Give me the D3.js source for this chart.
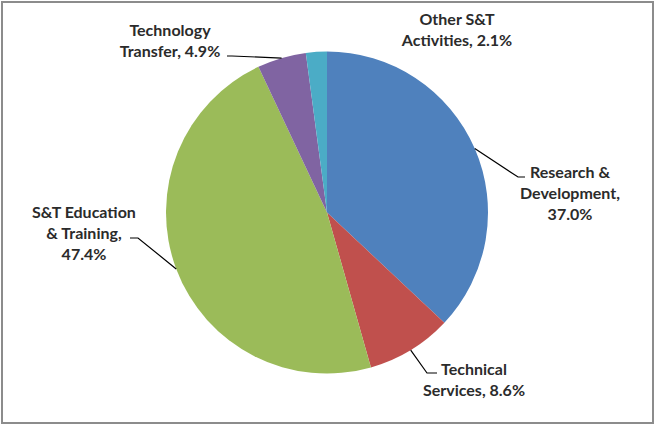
<!DOCTYPE html>
<html>
<head>
<meta charset="utf-8">
<script src="https://cdn.jsdelivr.net/npm/d3@7"></script>
<style>
  body { margin: 0; background: #fff; }
  svg text { font-family: Lato, "Open Sans", sans-serif; font-weight: bold; fill: #2b2b2b; }
</style>
</head>
<body>
<svg width="657" height="432"></svg>
<script>
var svg = d3.select("svg"),
    width = +svg.attr("width"),
    height = +svg.attr("height");

// chart data
var categories = ["Research & Development", "Technical Services", "S&T Education & Training", "Technology Transfer", "Other S&T Activities"];
var shares = [37.0, 8.6, 47.4, 4.9, 2.1];
var labelLines = [
    ["Research &", "Development,", "37.0%"],
    ["Technical", "Services, 8.6%"],
    ["S&T Education", "& Training,", "47.4%"],
    ["Technology", "Transfer, 4.9%"],
    ["Other S&T", "Activities, 2.1%"]
];

var colors = d3.scaleOrdinal()
    .domain(categories)
    .range(["#4f81bd", "#c0504d", "#9bbb59", "#8064a2", "#4bacc6"]);

// layout of the labels: text centre, first line y, leader elbow + end (null = no leader)
var labelLayout = [
    {x: 570, y: 172, elbow: [518, 177], end: [525, 177]},
    {x: 474, y: 369, elbow: [427, 373], end: [437, 373]},
    {x: 84,  y: 212, elbow: [138, 238], end: [130, 238]},
    {x: 170, y: 30,  elbow: [232, 56],  end: [227, 56]},
    {x: 457, y: 19,  elbow: null, end: null}
];

var cx = 327, cy = 212.5, radius = 161, lineH = 21;

// frame
svg.append("rect")
    .attr("x", 2).attr("y", 2)
    .attr("width", 651).attr("height", 421)
    .attr("fill", "#fff")
    .attr("stroke", "#8c8c8c")
    .attr("stroke-width", 2);

var pie = d3.pie().sort(null).value(function(d) { return d; });
var arcs = pie(shares);
var arc = d3.arc().innerRadius(0).outerRadius(radius);

var g = svg.append("g").attr("transform", "translate(" + cx + "," + cy + ")");

g.selectAll("path.slice")
    .data(arcs)
    .enter()
    .append("path")
    .attr("class", "slice")
    .attr("d", arc)
    .attr("fill", function(d, i) { return colors(categories[i]); });

// leader lines from slice mid-point on the rim
arcs.forEach(function(d, i) {
    var lay = labelLayout[i];
    if (!lay.elbow) return;
    var a = (d.startAngle + d.endAngle) / 2;
    var px = cx + radius * Math.sin(a),
        py = cy - radius * Math.cos(a);
    svg.append("path")
        .attr("d", "M" + px + "," + py + "L" + lay.elbow[0] + "," + lay.elbow[1] + "L" + lay.end[0] + "," + lay.end[1])
        .attr("fill", "none")
        .attr("stroke", "#000")
        .attr("stroke-width", 1.2);
});

// labels
labelLines.forEach(function(lines, i) {
    var lay = labelLayout[i];
    var t = svg.append("text")
        .attr("text-anchor", "middle")
        .style("font-size", "16px");
    lines.forEach(function(s, k) {
        t.append("tspan")
            .attr("x", lay.x)
            .attr("y", lay.y + k * lineH)
            .attr("dy", "0.35em")
            .text(s);
    });
});
</script>
</body>
</html>
